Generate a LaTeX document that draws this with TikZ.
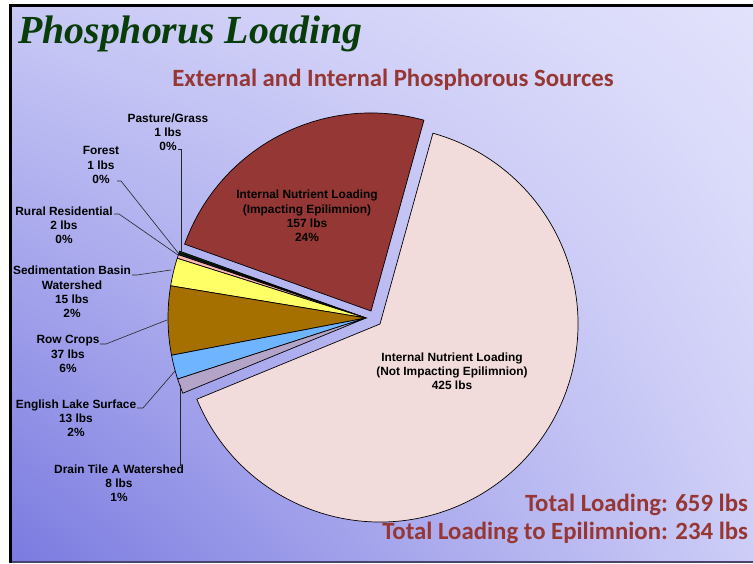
\documentclass[tikz,border=0pt]{standalone}
\usepackage{fontspec}
\usetikzlibrary{shadings}
\newfontfamily\labfamily{Liberation Sans}
\newfontfamily\calfamily{Carlito}
\newfontfamily\titfamily{Liberation Serif}
\definecolor{bgUL}{RGB}{200,200,246}
\definecolor{bgUR}{RGB}{226,226,252}
\definecolor{bgLL}{RGB}{122,122,224}
\definecolor{bgLR}{RGB}{205,205,247}
\definecolor{titgreen}{RGB}{8,60,8}
\definecolor{maroonT}{RGB}{150,55,53}
\definecolor{sMaroon}{RGB}{149,55,53}
\definecolor{sPink}{RGB}{242,220,219}
\definecolor{sYellow}{RGB}{255,255,102}
\definecolor{sBrown}{RGB}{166,112,0}
\definecolor{sBlue}{RGB}{110,180,255}
\definecolor{sLilac}{RGB}{180,165,200}
\definecolor{sRose}{RGB}{255,180,180}
\definecolor{sPasture}{RGB}{0,60,0}
\definecolor{sForest}{RGB}{30,30,60}
\definecolor{frameB}{RGB}{70,70,110}
\begin{document}
\begin{tikzpicture}[x=1pt,y=1pt,
  lab/.style={font=\labfamily\bfseries\fontsize{11.9}{14.2}\selectfont, align=center, inner sep=0pt, text=black},
  leader/.style={draw=black!85, line width=0.6pt},
  slice/.style={draw=black, line width=0.7pt},
  big/.style={font=\calfamily\bfseries\fontsize{24.8}{28}\selectfont, text=maroonT, inner sep=0pt}]
\useasboundingbox (0,0) rectangle (753,564);
% background and frame
\shade[upper left=bgUL, upper right=bgUR, lower left=bgLL, lower right=bgLR] (12,2.5) rectangle (753,557);
\draw[line width=2pt, frameB] (12,1.5) -- (753,1.5);
\draw[line width=3pt, black] (10.5,1) -- (10.5,558.2) -- (753,558.2);
% titles
\node[anchor=base west, inner sep=0pt, text=titgreen, font=\titfamily\bfseries\itshape\fontsize{39.8}{42}\selectfont] (title) at (18,520) {Phosphorus Loading};
\node[big, anchor=base] (sub) at (393,477) {External and Internal Phosphorous Sources};
\node[big, anchor=base east] (tot1) at (748,52) {Total Loading: 659 lbs};
\node[big, anchor=base east] (tot2) at (748,24) {Total Loading to Epilimnion: 234 lbs};
% pie centres
\coordinate (C) at (366,246);
\coordinate (P) at (380,240);
\coordinate (M) at (371,253);
% slices
\filldraw[slice, fill=sPink] (P) -- ++(202.32:198) arc[start angle=202.32, end angle=434.5, radius=198] -- cycle;
\filldraw[slice, fill=sMaroon] (M) -- ++(74.5:198) arc[start angle=74.5, end angle=160.27, radius=198] -- cycle;
\filldraw[slice, fill=sPasture] (C) -- ++(160.27:198) arc[start angle=160.27, end angle=160.82, radius=198] -- cycle;
\filldraw[slice, fill=sForest] (C) -- ++(160.82:198) arc[start angle=160.82, end angle=161.36, radius=198] -- cycle;
\filldraw[slice, fill=sRose] (C) -- ++(161.36:198) arc[start angle=161.36, end angle=162.45, radius=198] -- cycle;
\filldraw[slice, fill=sYellow] (C) -- ++(162.45:198) arc[start angle=162.45, end angle=170.64, radius=198] -- cycle;
\filldraw[slice, fill=sBrown] (C) -- ++(170.64:198) arc[start angle=170.64, end angle=190.85, radius=198] -- cycle;
\filldraw[slice, fill=sBlue] (C) -- ++(190.85:198) arc[start angle=190.85, end angle=197.95, radius=198] -- cycle;
\filldraw[slice, fill=sLilac] (C) -- ++(197.95:198) arc[start angle=197.95, end angle=202.32, radius=198] -- cycle;
% inside labels
\node[lab] (imp) at (307,348) {Internal Nutrient Loading\\(Impacting Epilimnion)\\157 lbs\\24\%};
\node[lab] (notimp) at (452,193) {Internal Nutrient Loading\\(Not Impacting Epilimnion)\\425 lbs};
% outside labels
\node[lab] (past) at (168,432) {Pasture/Grass\\1 lbs\\0\%};
\node[lab] (forest) at (101,399) {Forest\\1 lbs\\0\%};
\node[lab] (rural) at (64,339) {Rural Residential\\2 lbs\\0\%};
\node[lab] (sed) at (72,272) {Sedimentation Basin\\Watershed\\15 lbs\\2\%};
\node[lab] (row) at (68,210) {Row Crops\\37 lbs\\6\%};
\node[lab] (lake) at (76,146) {English Lake Surface\\13 lbs\\2\%};
\node[lab] (drain) at (119,81) {Drain Tile A Watershed\\8 lbs\\1\%};
% leader ends
\coordinate (pastA) at (178,415); \coordinate (pastE) at (181,311);
\coordinate (forA) at (117,383);  \coordinate (forE) at (179,310);
\coordinate (rurA) at (114,350);  \coordinate (rurE) at (178,309);
\coordinate (sedA) at (132,289);  \coordinate (sedE) at (171,294);
\coordinate (rowA) at (100,220);  \coordinate (rowE) at (167,244);
\coordinate (lakA) at (137,156);  \coordinate (lakE) at (175,193);
\coordinate (draA) at (180,98);   \coordinate (draE) at (180,179);
\draw[leader] (pastA) -| (pastE);
\draw[leader] (forA) -- ++(4,0) -- (forE);
\draw[leader] (rurA) -- ++(5,0) -- (rurE);
\draw[leader] (sedA) -- ++(5,0) -- (sedE);
\draw[leader] (rowA) -- ++(6,0) -- (rowE);
\draw[leader] (lakA) -- ++(6,0) -- (lakE);
\draw[leader] (draA) -- (draE);
\end{tikzpicture}
\end{document}
